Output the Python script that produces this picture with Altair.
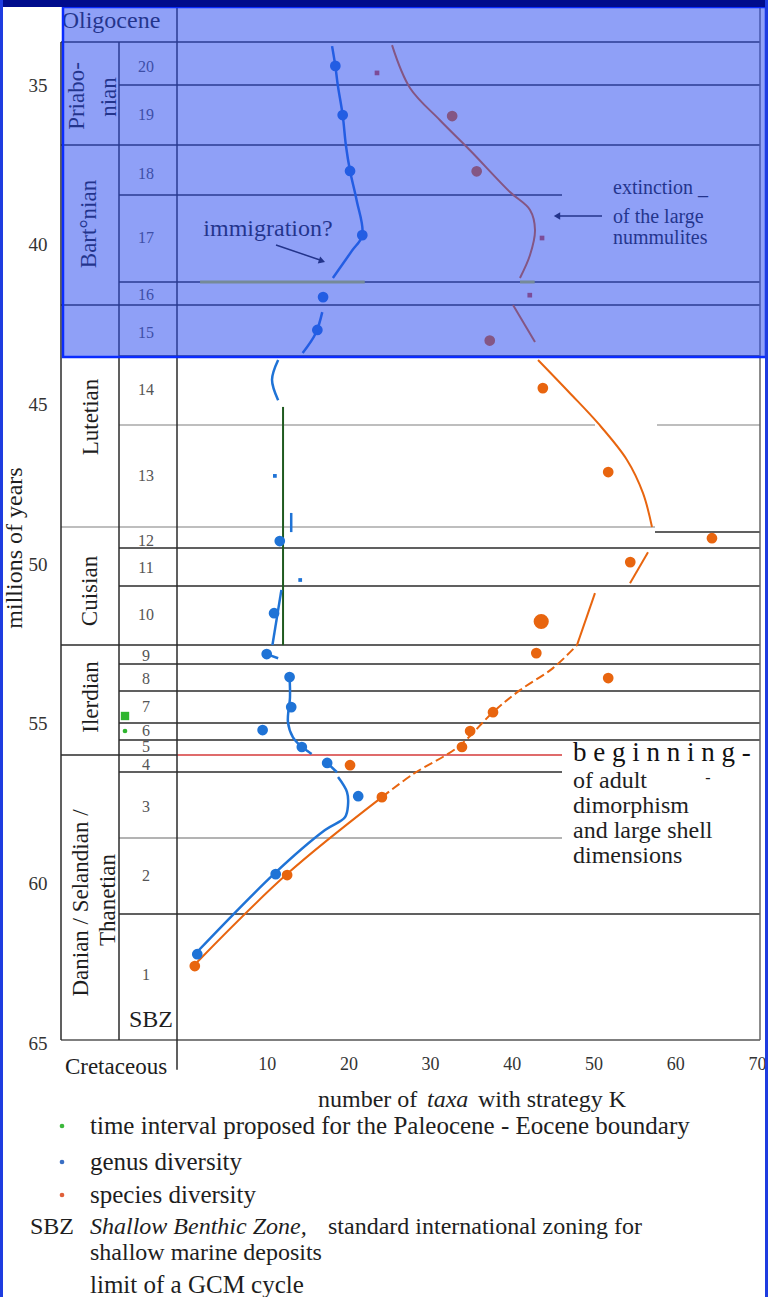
import altair as alt
import pandas as pd

FONT = "Liberation Serif"
INK = "#1e1e1e"
LINE = "#2b2b2b"
BLUE = "#1f73d6"
ORANGE = "#e8650f"
GREEN = "#2fb52f"

# plot frame inside the page (pixels)
LEFT, TOP, W, H = 177, 41, 583, 1002

# ---------------------------------------------------------------- data
y_ticks = [35, 40, 45, 50, 55, 60, 65]
x_ticks = [10, 20, 30, 40, 50, 60, 70]

# Shallow Benthic Zones and the age (Ma) at which each label sits
sbz_zone = [20, 19, 18, 17, 16, 15, 14, 13, 12, 11, 10, 9, 8, 7, 6, 5, 4, 3, 2, 1]
sbz_mid_age = [34.43, 35.94, 37.79, 39.79, 41.57, 42.76, 44.55, 47.24, 49.28, 50.12,
               51.60, 52.88, 53.60, 54.48, 55.23, 55.73, 56.29, 57.61, 59.77, 62.87]

# zone boundaries (Ma)
stage_bound_age = [33.651, 36.877, 41.888, 52.535]
zone_bound_age = [35.0, 41.167, 43.485, 49.50, 50.69, 53.13, 53.976, 54.978, 55.511, 60.96]
short_bound_age = [38.443, 56.513]
faint_short_bound_age = [58.58]
lutetian_inner_age = 45.646
lutetian_cuisian_age = 48.84
zone_12_11_age = 49.0
ilerdian_base_age = 55.98
chart_base_age = 64.906

# genus diversity (number of taxa with strategy K)
genus_zone = [20, 19, 18, 17, 16, 15, 12, 10, 9, 8, 7, 6, 5, 4, 3, 2, 1]
genus_age = [34.40, 35.94, 37.69, 39.70, 41.64, 42.67, 49.28, 51.54, 52.82, 53.54,
             54.48, 55.20, 55.73, 56.23, 57.27, 59.71, 62.22]
genus_taxa = [18.4, 19.3, 20.2, 21.7, 16.9, 16.2, 11.6, 10.9, 10.0, 12.8,
              13.0, 9.5, 14.3, 17.4, 21.2, 11.1, 1.5]
genus_minor_age = [47.24, 50.50]
genus_minor_taxa = [11.0, 14.1]

# species diversity
species_zone = [19, 18, 15, 14, 13, 12, 11, 10, 9, 8, 7, 6, 5, 4, 3, 2, 1]
species_age = [35.97, 37.70, 43.00, 44.49, 47.12, 49.19, 49.94, 51.80, 52.79, 53.57,
               54.64, 55.23, 55.73, 56.30, 57.30, 59.74, 62.59]
species_taxa = [32.7, 35.7, 37.3, 43.8, 51.8, 64.5, 54.5, 43.6, 43.0, 51.8,
                37.7, 34.9, 33.9, 20.2, 24.1, 12.5, 1.2]
species_minor_age = [34.62, 39.79, 41.58]
species_minor_taxa = [23.5, 43.7, 42.2]

# hand-drawn trend of genus diversity, piece by piece
genus_trend_seg = [1] * 7 + [2] * 2 + [3] * 2 + [4] * 5 + [5] * 2 + [6] * 2 + [7] * 2 + [8] * 3 + [9] * 3 + [10] * 10
genus_trend_taxa = [1.47, 11.0, 17.14, 19.58, 19.95, 19.83, 18.73,
                    17.4, 18.6,
                    14.3, 15.5,
                    12.8, 12.85, 12.6, 13.2, 14.3,
                    10.7, 11.8,
                    10.0, 11.4,
                    13.0, 13.0,
                    11.4, 10.65, 11.4,
                    14.4, 16.0, 16.8,
                    18.1, 20.4, 21.7, 21.0, 20.2, 19.7, 19.3, 18.7, 18.4, 18.0]
genus_trend_age = [62.15, 59.68, 58.33, 57.93, 57.55, 57.14, 56.67,
                   56.23, 56.52,
                   55.73, 55.95,
                   53.54, 54.17, 54.95, 55.42, 55.73,
                   52.54, 50.81,
                   52.82, 52.95,
                   48.40, 49.00,
                   43.61, 44.23, 44.87,
                   43.39, 42.77, 42.11,
                   41.04, 40.20, 39.70, 38.60, 37.69, 36.90, 35.94, 35.00, 34.40, 33.78]

# hand-drawn trend of species diversity (segment 2 is dashed)
species_trend_seg = [1] * 3 + [2] * 7 + [3] * 2 + [4] * 2 + [5] * 6 + [6] * 2 + [7] * 9
species_trend_taxa = [1.47, 12.48, 24.11,
                      24.11, 27.91, 33.41, 37.70, 41.0, 45.04, 47.98,
                      47.98, 50.18,
                      54.47, 56.67,
                      57.16, 56.06, 54.1, 50.55, 47.12, 43.21,
                      42.84, 40.15,
                      41.0, 42.23, 42.84, 42.23, 39.78, 34.88, 31.21, 27.54, 25.34]
species_trend_age = [62.47, 59.71, 57.30,
                     57.30, 56.58, 55.73, 54.64, 53.95, 53.26, 52.54,
                     52.54, 50.91,
                     50.60, 49.63,
                     48.84, 47.78, 46.74, 45.59, 44.65, 43.61,
                     43.05, 41.89,
                     41.04, 40.32, 39.54, 38.91, 38.35, 37.04, 36.10, 35.09, 33.75]

# ---------------------------------------------------------------- scales
X_SCALE = alt.Scale(domain=[-0.98, 70.38], nice=False, zero=False)
Y_SCALE = alt.Scale(domain=[33.62, 65.0], reverse=True, nice=False, zero=False)
X_AXIS = alt.Axis(values=x_ticks, title=None, domain=False, ticks=False, grid=False,
                  labelPadding=12, labelFont=FONT, labelFontSize=18, labelColor="#333",
                  labelFlush=False)
Y_AXIS = alt.Axis(values=y_ticks, title=None, domain=False, ticks=False, grid=False,
                  labelPadding=130, labelFont=FONT, labelFontSize=19, labelColor="#333",
                  labelFlush=False)

ONE = pd.DataFrame({"k": [0]})


def X(field):
    return alt.X(field, type="quantitative", scale=X_SCALE, axis=X_AXIS)


def Y(field):
    return alt.Y(field, type="quantitative", scale=Y_SCALE, axis=Y_AXIS)


def px(v):
    return alt.value(v - LEFT)


def py(v):
    return alt.value(v - TOP)


def hrules(ages, x0, x1, color=LINE, width=1.5):
    return alt.Chart(pd.DataFrame({"age": ages})).mark_rule(
        color=color, strokeWidth=width).encode(y=Y("age"), x=px(x0), x2=px(x1))


def vrule(xp, a0, a1, color=LINE, width=1.5):
    return alt.Chart(pd.DataFrame({"a0": [a0], "a1": [a1]})).mark_rule(
        color=color, strokeWidth=width).encode(x=px(xp), y=Y("a0"), y2="a1")


def txt(s, x, y, size=23, align="center", angle=0, style="normal",
        weight="normal", color=INK, baseline="middle"):
    return alt.Chart(ONE).mark_text(
        text=s, font=FONT, fontSize=size, align=align, baseline=baseline,
        angle=angle, fontStyle=style, fontWeight=weight, color=color,
    ).encode(x=px(x), y=py(y))


layers = []

# ---------------------------------------------------------------- table frame
layers += [
    hrules(stage_bound_age, 61, 760),
    hrules(zone_bound_age, 119, 760),
    hrules(short_bound_age, 119, 562),
    hrules(faint_short_bound_age, 119, 562, color="#9a9a9a", width=1.3),
    hrules([lutetian_inner_age], 119, 595, color="#a8a8a8", width=1.3),
    hrules([lutetian_inner_age], 657, 760, color="#a8a8a8", width=1.3),
    hrules([lutetian_cuisian_age], 61, 655, color="#a8a8a8", width=1.3),
    hrules([zone_12_11_age], 655, 760),
    hrules([ilerdian_base_age], 61, 177),
    hrules([ilerdian_base_age], 177, 562, color="#d43a3a", width=1.5),
    hrules([chart_base_age], 61, 760, color="#555555", width=1.5),
    vrule(61, 33.651, chart_base_age),
    vrule(119, 33.651, chart_base_age),
    vrule(177, 32.49, 65.84),
    vrule(760, 32.55, chart_base_age, color="#666666"),
]

# green bar drawn through zones 13-10
layers.append(
    alt.Chart(pd.DataFrame({"t": [12.0], "a0": [45.08], "a1": [52.54]}))
    .mark_rule(color="#1f5a1f", strokeWidth=2)
    .encode(x=X("t"), y=Y("a0"), y2="a1")
)
# pale green mark at the base of zone 17
layers.append(
    alt.Chart(pd.DataFrame({"t0": [1.84, 41.0], "t1": [22.0, 42.8], "a": [41.167, 41.167]}))
    .mark_rule(color="#c9d23a", strokeWidth=3)
    .encode(x=X("t0"), x2="t1", y=Y("a"))
)

# ---------------------------------------------------------------- column labels
layers += [
    txt("Oligocene", 111, 21, size=24),
    txt("Priabo-", 77, 96, size=23, angle=270),
    txt("nian", 109, 97, size=23, angle=270),
    txt("Bart\u00b0nian", 89, 224, size=23, angle=270),
    txt("Lutetian", 91, 417, size=23, angle=270),
    txt("Cuisian", 90, 591, size=23, angle=270),
    txt("Ilerdian", 91, 697, size=23, angle=270),
    txt("Danian / Selandian /", 81, 903, size=23, angle=270),
    txt("Thanetian", 108, 900, size=23, angle=270),
    txt("SBZ", 151, 1020, size=24),
]
layers.append(
    alt.Chart(pd.DataFrame({"zone": sbz_zone, "age": sbz_mid_age}))
    .mark_text(font=FONT, fontSize=16, color="#555555")
    .encode(x=px(146), y=Y("age"), text="zone:N")
)

# Paleocene-Eocene boundary markers
layers += [
    alt.Chart(ONE).mark_square(color=GREEN, size=70, opacity=1).encode(x=px(125), y=py(716)),
    alt.Chart(ONE).mark_circle(color=GREEN, size=22, opacity=1).encode(x=px(125), y=py(731)),
]

# ---------------------------------------------------------------- trends
genus_trend = pd.DataFrame({"seg": genus_trend_seg, "taxa": genus_trend_taxa,
                            "age": genus_trend_age})
genus_trend["i"] = range(len(genus_trend))
species_trend = pd.DataFrame({"seg": species_trend_seg, "taxa": species_trend_taxa,
                              "age": species_trend_age})
species_trend["i"] = range(len(species_trend))

layers.append(
    alt.Chart(genus_trend).mark_line(color=BLUE, strokeWidth=2.5, interpolate="catmull-rom")
    .encode(x=X("taxa"), y=Y("age"), detail="seg:N", order="i:Q")
)
layers.append(
    alt.Chart(species_trend).transform_filter(alt.datum.seg != 2)
    .mark_line(color=ORANGE, strokeWidth=2, interpolate="catmull-rom")
    .encode(x=X("taxa"), y=Y("age"), detail="seg:N", order="i:Q")
)
layers.append(
    alt.Chart(species_trend).transform_filter(alt.datum.seg == 2)
    .mark_line(color=ORANGE, strokeWidth=2, strokeDash=[9, 4], interpolate="catmull-rom")
    .encode(x=X("taxa"), y=Y("age"), order="i:Q")
)

# ---------------------------------------------------------------- points
layers.append(
    alt.Chart(pd.DataFrame({"zone": species_zone, "taxa": species_taxa, "age": species_age}))
    .mark_circle(color=ORANGE, opacity=1)
    .encode(x=X("taxa"), y=Y("age"),
            size=alt.condition(alt.datum.zone == 10, alt.value(230), alt.value(115)))
)
layers.append(
    alt.Chart(pd.DataFrame({"taxa": species_minor_taxa, "age": species_minor_age}))
    .mark_square(color="#d8503a", size=22, opacity=1)
    .encode(x=X("taxa"), y=Y("age"))
)
layers.append(
    alt.Chart(pd.DataFrame({"zone": genus_zone, "taxa": genus_taxa, "age": genus_age}))
    .mark_circle(color=BLUE, size=115, opacity=1)
    .encode(x=X("taxa"), y=Y("age"))
)
layers.append(
    alt.Chart(pd.DataFrame({"taxa": genus_minor_taxa, "age": genus_minor_age}))
    .mark_square(color=BLUE, size=14, opacity=1)
    .encode(x=X("taxa"), y=Y("age"))
)

# ---------------------------------------------------------------- annotations
layers += [
    txt("immigration?", 268, 229, size=24),
    alt.Chart(ONE).mark_rule(color=INK, strokeWidth=1.5)
    .encode(x=px(276), y=py(245), x2=px(320), y2=py(260)),
    alt.Chart(ONE).mark_point(shape="triangle-right", filled=True, size=55, angle=19,
                              color=INK, opacity=1)
    .encode(x=px(322), y=py(261)),
    txt("extinction _", 613, 188, size=20, align="left"),
    txt("of the large", 613, 217, size=20, align="left"),
    txt("nummulites", 613, 238, size=20, align="left"),
    alt.Chart(ONE).mark_rule(color=INK, strokeWidth=1.5)
    .encode(x=px(560), y=py(216), x2=px(602), y2=py(216)),
    alt.Chart(ONE).mark_point(shape="triangle-left", filled=True, size=55,
                              color=INK, opacity=1)
    .encode(x=px(557), y=py(216)),
    txt("b\u2005e\u2005g\u2005i\u2005n\u2005n\u2005i\u2005n\u2005g\u2005-", 573, 753,
        size=27, align="left", color="#111111"),
    txt("-", 708, 778, size=16),
    txt("of adult", 573, 781, size=24, align="left"),
    txt("dimorphism", 573, 806, size=24, align="left"),
    txt("and large shell", 573, 831, size=24, align="left"),
    txt("dimensions", 573, 856, size=24, align="left"),
]

# ---------------------------------------------------------------- axis titles
layers += [
    txt("millions of years", 15, 548, size=24, angle=270),
    txt("Cretaceous", 116, 1067, size=23),
    txt("number of", 318, 1100, size=24, align="left"),
    txt("taxa", 427, 1100, size=24, align="left", style="italic"),
    txt("with strategy K", 478, 1100, size=24, align="left"),
]

# ---------------------------------------------------------------- key
layers += [
    alt.Chart(ONE).mark_circle(color="#3cb83c", size=22, opacity=1).encode(x=px(62), y=py(1126)),
    txt("time interval proposed for the Paleocene - Eocene boundary", 90, 1126, size=25, align="left"),
    alt.Chart(ONE).mark_circle(color="#3a6fc4", size=22, opacity=1).encode(x=px(62), y=py(1162)),
    txt("genus diversity", 90, 1162, size=25, align="left"),
    alt.Chart(ONE).mark_circle(color="#e0603a", size=22, opacity=1).encode(x=px(62), y=py(1195)),
    txt("species diversity", 90, 1195, size=25, align="left"),
    txt("SBZ", 30, 1227, size=24, align="left"),
    txt("Shallow Benthic Zone,", 90, 1227, size=24, align="left", style="italic"),
    txt("standard international zoning for", 328, 1227, size=24, align="left"),
    txt("shallow marine deposits", 90, 1253, size=24, align="left"),
    txt("limit of a GCM cycle", 90, 1285, size=25, align="left"),
]

# ---------------------------------------------------------------- highlight and page border
layers += [
    alt.Chart(ONE).mark_rect(fill="#2848f0", fillOpacity=0.52, stroke="#0a2cff", strokeWidth=2.5)
    .encode(x=px(63), x2=px(766), y=py(7), y2=py(357)),
    alt.Chart(ONE).mark_rect(fill="#000c8c").encode(x=px(0), x2=px(768), y=py(0), y2=py(7)),
    alt.Chart(ONE).mark_rect(fill="#1e3ce0").encode(x=px(0), x2=px(3), y=py(0), y2=py(1297)),
    alt.Chart(ONE).mark_rect(fill="#1e3ce0").encode(x=px(765), x2=px(768), y=py(0), y2=py(1297)),
]

chart = (
    alt.layer(*layers)
    .properties(
        width=W, height=H,
        padding={"left": LEFT, "top": TOP, "right": 768 - LEFT - W, "bottom": 1297 - TOP - H},
        autosize=alt.AutoSizeParams(type="none"),
    )
    .configure(background="white")
    .configure_view(stroke=None)
)

chart.save("out.html", embed_options={"renderer": "svg", "actions": False})
